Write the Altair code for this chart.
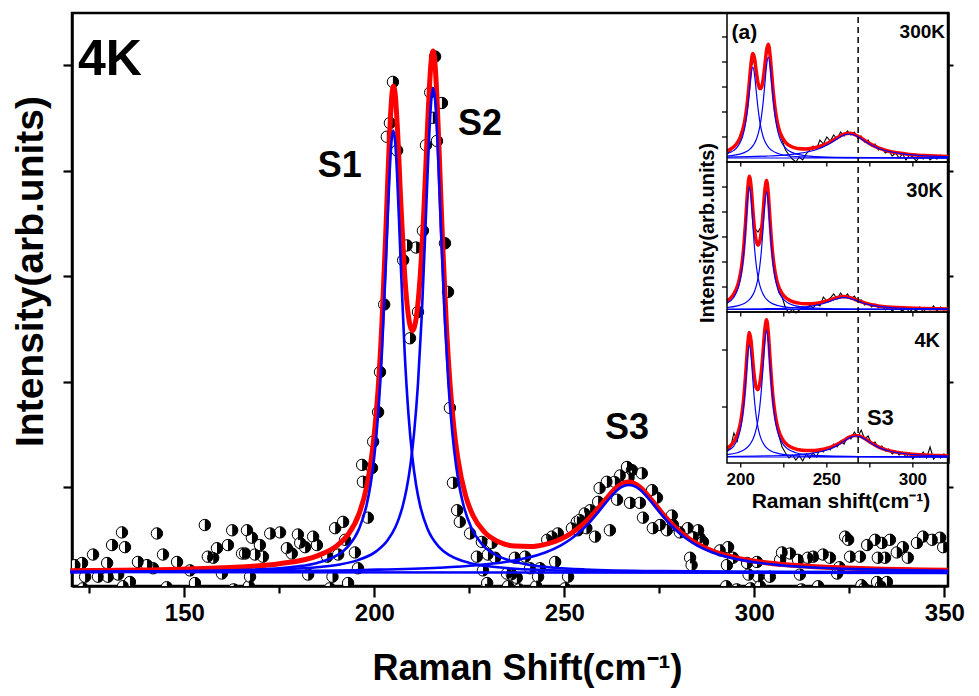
import altair as alt
import pandas as pd

FONT = "Liberation Sans"

# ---------------- main panel (4K) : measured points ----------------
PX = [121.2, 123.1, 123.3, 123.9, 126.0, 127.3, 129.7, 129.9, 131.0, 132.6,
      133.6, 133.9, 134.4, 135.7, 137.8, 140.2, 141.8, 142.8, 144.4, 145.4,
      148.1, 151.5, 152.8, 155.4, 156.2, 157.6, 158.6, 159.9, 161.5, 162.6,
      163.0, 165.2, 166.0, 166.5, 167.0, 167.3, 167.8, 168.6, 169.9, 170.7,
      172.6, 175.2, 177.0, 178.3, 179.9, 180.5, 181.8, 182.6, 183.9, 184.9,
      187.6, 188.3, 189.0, 189.7, 190.5, 191.8, 192.3, 193.1, 194.9, 195.7,
      196.8, 197.0, 198.3, 199.4, 199.7, 201.0, 201.5, 202.6, 203.3, 204.1,
      204.9, 206.0, 207.6, 208.6, 209.4, 211.0, 211.5, 212.8, 213.6, 214.7,
      215.4, 216.0, 216.5, 217.8, 218.6, 219.4, 219.9, 220.7, 221.8, 222.5,
      225.2, 227.0, 228.3, 228.6, 229.1, 229.7, 229.9, 230.9, 231.8, 234.9,
      235.2, 236.2, 237.0, 237.5, 238.1, 239.7, 241.0, 242.6, 243.1, 243.6,
      245.5, 246.8, 247.6, 248.3, 250.2, 251.0, 252.0, 253.3, 253.6, 254.1,
      255.4, 255.8, 256.8, 258.1, 258.9, 259.3, 261.2, 262.0, 263.3, 263.9,
      264.7, 266.5, 266.9, 267.3, 267.8, 269.9, 270.4, 270.7, 273.1, 273.3,
      274.4, 275.2, 277.0, 278.3, 278.6, 280.4, 282.5, 283.1, 283.5, 283.9,
      285.2, 285.6, 286.5, 291.0, 292.6, 292.8, 293.1, 294.4, 295.4, 298.1,
      298.5, 299.0, 300.7, 301.0, 301.5, 304.1, 306.8, 307.3, 309.4, 311.5,
      312.0, 312.4, 314.1, 315.5, 316.8, 318.1, 319.9, 321.8, 322.4, 323.9,
      324.7, 325.2, 327.8, 328.2, 328.9, 329.7, 331.8, 332.3, 332.5, 333.3,
      333.6, 334.4, 334.9, 335.7, 337.5, 339.1, 340.4, 342.8, 344.4, 346.8,
      348.9, 349.7]
PY = [0.26, 0.28, 0.04, 0.15, 0.36, 0.15, 0.28, 0.15, 0.45, 0.17,
      0.57, 0.06, 0.43, 0.10, 0.29, 0.26, 0.23, 0.56, 0.36, 0.05,
      0.29, 0.21, 0.09, 0.64, 0.34, 0.33, 0.42, 0.18, 0.45, 0.59,
      0.03, 0.37, 0.37, 0.59, 0.06, 0.15, 0.52, 0.36, 0.45, 0.34,
      0.56, 0.57, 0.42, 0.37, 0.55, 0.47, 0.43, 0.17, 0.53, 0.45,
      0.34, 0.04, 0.15, 0.61, 0.36, 0.67, 0.50, 0.09, 0.38, 0.23,
      1.21, 1.05, 0.71, 1.18, 1.43, 1.71, 2.09, 2.73, 4.32, 4.45,
      4.84, 4.19, 3.15, 3.29, 2.41, 3.27, 2.66, 3.43, 4.24, 4.74,
      4.50, 5.08, 4.28, 4.64, 3.31, 2.85, 1.75, 1.04, 0.78, 0.67,
      0.56, 0.34, 0.48, 0.21, 0.03, 0.09, 0.36, 0.47, 0.33, 0.18,
      0.06, 0.17, 0.33, 0.14, 0.03, 0.34, 0.23, 0.06, 0.15, 0.23,
      0.50, 0.53, 0.29, 0.56, 0.04, 0.15, 0.61, 0.67, 0.59, 0.69,
      0.75, 0.61, 0.78, 0.53, 0.86, 0.99, 1.05, 0.59, 1.05, 0.88,
      1.11, 1.19, 1.09, 0.85, 1.16, 0.85, 1.13, 0.71, 0.97, 0.61,
      0.90, 0.64, 0.59, 0.73, 0.64, 0.57, 0.61, 0.33, 0.26, 0.53,
      0.59, 0.52, 0.48, 0.40, 0.06, 0.26, 0.43, 0.33, 0.03, 0.28,
      0.17, 0.04, 0.29, 0.15, 0.06, 0.15, 0.31, 0.38, 0.37, 0.31,
      0.17, 0.03, 0.33, 0.34, 0.06, 0.36, 0.33, 0.18, 0.24, 0.53,
      0.50, 0.34, 0.34, 0.07, 0.04, 0.45, 0.50, 0.10, 0.33, 0.06,
      0.47, 0.33, 0.10, 0.50, 0.38, 0.43, 0.33, 0.47, 0.53, 0.50,
      0.52, 0.43]

# total fit (red)
FIT_X = [120, 140, 160, 175, 185, 190, 193, 196, 198, 199,
         200, 201, 202, 203, 203.5, 204, 204.5, 205, 205.5, 206,
         207, 208, 209, 209.5, 210, 210.5, 211, 212, 213, 213.5,
         214, 214.5, 215, 215.5, 216, 216.5, 217, 218, 219, 220,
         221, 222, 224, 226, 229, 233, 237, 241, 245, 249,
         252, 255, 258, 261, 264, 267, 270, 273, 276, 279,
         283, 289, 295, 303, 315, 330, 351]
FIT_Y = [0.206, 0.214, 0.234, 0.273, 0.348, 0.440, 0.545, 0.748, 1.006, 1.210,
         1.502, 1.925, 2.543, 3.389, 3.867, 4.315, 4.654, 4.800, 4.723, 4.455,
         3.681, 3.011, 2.615, 2.518, 2.484, 2.511, 2.596, 2.960, 3.589, 3.988,
         4.406, 4.786, 5.053, 5.133, 4.998, 4.676, 4.238, 3.292, 2.506, 1.941,
         1.543, 1.266, 0.920, 0.728, 0.573, 0.477, 0.440, 0.436, 0.457, 0.506,
         0.566, 0.650, 0.760, 0.888, 1.002, 1.047, 0.996, 0.876, 0.741, 0.623,
         0.505, 0.394, 0.331, 0.283, 0.247, 0.225, 0.211]
# components (blue)
S1_X = [120, 143, 165, 180, 185, 190, 193, 196, 198, 199,
        200, 201, 202, 203, 203.5, 204, 204.5, 205, 205.5, 206,
        206.5, 207, 208, 209, 210, 211, 212, 214, 217, 220,
        225, 230, 245, 255, 267, 290, 351]
S1_Y = [0.195, 0.200, 0.213, 0.249, 0.281, 0.349, 0.433, 0.604, 0.833, 1.019,
        1.288, 1.686, 2.271, 3.079, 3.533, 3.956, 4.266, 4.380, 4.266, 3.956,
        3.533, 3.079, 2.271, 1.686, 1.288, 1.019, 0.833, 0.604, 0.433, 0.349,
        0.281, 0.249, 0.213, 0.205, 0.200, 0.195, 0.192]
S2_X = [120, 155.5, 175.5, 185.5, 190.5, 195.5, 200.5, 203.5, 205.5, 206.5,
        207.5, 208.5, 209.5, 210.5, 211.5, 212.5, 213.5, 214, 214.5, 215,
        215.5, 216, 216.5, 217, 217.5, 218.5, 219.5, 220.5, 221.5, 222.5,
        223.5, 225.5, 228.5, 232.5, 235.5, 240.5, 255.5, 275.5, 310.5, 351]
S2_Y = [0.195, 0.203, 0.219, 0.242, 0.264, 0.305, 0.390, 0.495, 0.616, 0.705,
        0.823, 0.983, 1.207, 1.524, 1.981, 2.633, 3.491, 3.953, 4.371, 4.671,
        4.780, 4.671, 4.371, 3.953, 3.491, 2.633, 1.981, 1.524, 1.207, 0.983,
        0.823, 0.616, 0.452, 0.347, 0.305, 0.264, 0.219, 0.203, 0.195, 0.192]
S3_X = [120, 167, 197, 217, 227, 234, 240, 245, 249, 252,
        255, 257, 259, 261, 263, 265, 267, 269, 271, 273,
        275, 277, 279, 282, 285, 289, 294, 300, 307, 317,
        327, 337, 351]
S3_Y = [0.195, 0.202, 0.214, 0.235, 0.259, 0.287, 0.327, 0.380, 0.445, 0.514,
        0.605, 0.680, 0.765, 0.854, 0.937, 0.998, 1.020, 0.998, 0.937, 0.854,
        0.765, 0.680, 0.605, 0.514, 0.445, 0.380, 0.327, 0.287, 0.259, 0.235,
        0.222, 0.214, 0.207]
BASE_X = [120, 351]
BASE_Y = [0.194, 0.186]

X_MAJOR = [150, 200, 250, 300, 350]
X_MINOR = [125, 175, 225, 275, 325]
Y_TICKS = [1, 2, 3, 4, 5]

PEAK_NAMES = ["S1", "S2", "S3"]
PEAK_LX = [190.9, 227.8, 266.5]
PEAK_LY = [3.94, 4.34, 1.46]
TEMP_MAIN = ["4K"]
TEMP_MAIN_X = [122.0]
TEMP_MAIN_Y = [4.905]

# ---------------- inset (a) ----------------
IX_TICKS = [200, 225, 250, 275, 300]
IX_LABELS = ["200", "250", "300"]
IX_LABEL_X = [200, 250, 300]
IY_TICKS_300K = [0.25, 0.5, 0.75, 1.0, 1.25]
IY_TICKS_30K = [0.25, 0.5, 0.75, 1.0, 1.25]
IY_TICKS_4K = [0.56, 1.13]
G = [192, 194, 196, 198, 199, 200, 201, 202, 203, 204,
     205, 206, 207, 208, 209, 210, 211, 212, 213, 214,
     215, 216, 217, 218, 219, 220, 221, 222, 224, 226,
     229, 233, 238, 243, 248, 252, 256, 260, 263, 266,
     269, 272, 276, 280, 285, 291, 298, 307, 321]
FIT_300K = [0.110, 0.128, 0.153, 0.193, 0.221, 0.260, 0.312, 0.384, 0.485, 0.625,
            0.804, 0.987, 1.084, 1.036, 0.907, 0.792, 0.735, 0.745, 0.825, 0.964,
            1.117, 1.177, 1.075, 0.876, 0.680, 0.528, 0.419, 0.341, 0.249, 0.197,
            0.157, 0.135, 0.130, 0.142, 0.168, 0.202, 0.243, 0.279, 0.288, 0.277,
            0.249, 0.216, 0.174, 0.142, 0.113, 0.092, 0.076, 0.064, 0.055]
FIT_30K = [0.111, 0.138, 0.181, 0.256, 0.316, 0.401, 0.524, 0.705, 0.951, 1.219,
           1.358, 1.255, 1.028, 0.829, 0.710, 0.669, 0.702, 0.812, 1.000, 1.217,
           1.314, 1.180, 0.922, 0.685, 0.512, 0.394, 0.312, 0.255, 0.185, 0.145,
           0.111, 0.091, 0.082, 0.086, 0.101, 0.121, 0.144, 0.154, 0.146, 0.128,
           0.108, 0.091, 0.073, 0.061, 0.051, 0.044, 0.039, 0.035, 0.031]
FIT_4K = [0.146, 0.172, 0.213, 0.283, 0.339, 0.418, 0.533, 0.699, 0.927, 1.174,
          1.305, 1.218, 1.018, 0.848, 0.753, 0.734, 0.788, 0.918, 1.120, 1.338,
          1.432, 1.304, 1.049, 0.803, 0.615, 0.484, 0.391, 0.325, 0.245, 0.198,
          0.159, 0.135, 0.124, 0.125, 0.137, 0.156, 0.186, 0.227, 0.258, 0.276,
          0.271, 0.245, 0.200, 0.161, 0.129, 0.106, 0.091, 0.080, 0.072]

I_S1_X = [192, 196, 198, 199, 200, 201, 202, 203, 204, 205,
          206, 207, 208, 209, 210, 211, 212, 214, 217, 222,
          229, 240, 260, 290, 321]
I_S2_X = [192, 198, 202, 205, 207, 208, 209, 210, 211, 212,
          213, 214, 215, 216, 217, 218, 219, 220, 221, 222,
          223, 225, 228, 232, 238, 250, 270, 321]
S1_4K = [0.117, 0.172, 0.234, 0.284, 0.357, 0.463, 0.620, 0.835, 1.068, 1.180,
         1.068, 0.835, 0.620, 0.463, 0.357, 0.284, 0.234, 0.172, 0.126, 0.094,
         0.077, 0.068, 0.063, 0.061, 0.061]
S2_4K = [0.084, 0.103, 0.132, 0.178, 0.235, 0.280, 0.341, 0.429, 0.555, 0.736,
         0.973, 1.217, 1.330, 1.217, 0.973, 0.736, 0.555, 0.429, 0.341, 0.280,
         0.235, 0.178, 0.132, 0.103, 0.084, 0.071, 0.065, 0.061]
S3_4K_X = [192, 215, 230, 240, 248, 253, 257, 260, 263, 265,
           267, 269, 271, 274, 277, 281, 286, 294, 304, 321]
S3_4K = [0.065, 0.071, 0.080, 0.095, 0.120, 0.149, 0.184, 0.217, 0.249, 0.264,
         0.270, 0.264, 0.249, 0.217, 0.184, 0.149, 0.120, 0.095, 0.080, 0.070]
S1_30K = [0.087, 0.148, 0.216, 0.271, 0.351, 0.468, 0.640, 0.877, 1.132, 1.255,
          1.132, 0.877, 0.640, 0.468, 0.351, 0.271, 0.216, 0.148, 0.097, 0.062,
          0.044, 0.034, 0.029, 0.027, 0.026]
S2_30K = [0.045, 0.061, 0.085, 0.123, 0.171, 0.208, 0.261, 0.337, 0.450, 0.615,
          0.842, 1.087, 1.205, 1.087, 0.842, 0.615, 0.450, 0.337, 0.261, 0.208,
          0.171, 0.123, 0.085, 0.061, 0.045, 0.034, 0.029, 0.026]
S3_30K_X = [192, 215, 225, 233, 240, 245, 249, 252, 255, 258,
            260, 262, 265, 268, 271, 275, 280, 287, 295, 305, 321]
S3_30K = [0.029, 0.033, 0.037, 0.045, 0.057, 0.072, 0.090, 0.108, 0.127, 0.142,
          0.145, 0.142, 0.127, 0.108, 0.090, 0.072, 0.057, 0.045, 0.037, 0.033, 0.030]
S1_300K_X = [192, 196, 198, 200, 201, 202, 203, 204, 205, 206,
             207, 208, 209, 210, 211, 212, 213, 214, 216, 218,
             222, 228, 238, 260, 321]
S1_300K = [0.082, 0.116, 0.149, 0.207, 0.253, 0.318, 0.411, 0.541, 0.707, 0.874,
           0.950, 0.874, 0.707, 0.541, 0.411, 0.318, 0.253, 0.207, 0.149, 0.116,
           0.082, 0.060, 0.050, 0.044, 0.041]
S2_300K_X = [192, 198, 202, 205, 207, 208, 209, 210, 211, 212,
             213, 214, 215, 216, 217, 218, 219, 220, 221, 222,
             223, 224, 225, 227, 230, 234, 240, 255, 280, 321]
S2_300K = [0.059, 0.073, 0.094, 0.124, 0.161, 0.188, 0.225, 0.276, 0.349, 0.451,
           0.596, 0.781, 0.966, 1.050, 0.966, 0.781, 0.596, 0.451, 0.349, 0.276,
           0.225, 0.188, 0.161, 0.124, 0.094, 0.073, 0.059, 0.047, 0.043, 0.041]
S3_300K_X = [192, 215, 225, 233, 240, 245, 249, 252, 255, 258,
             261, 263, 265, 268, 271, 274, 277, 281, 286, 293,
             301, 311, 321]
S3_300K = [0.049, 0.059, 0.069, 0.083, 0.105, 0.130, 0.160, 0.188, 0.221, 0.253,
           0.275, 0.280, 0.275, 0.253, 0.221, 0.188, 0.160, 0.130, 0.105, 0.083,
           0.069, 0.059, 0.053]
BASE_300K = [0.04, 0.04]
BASE_30K = [0.025, 0.025]
BASE_4K = [0.06, 0.06]
I_BASE_X = [192, 321]

D_X = [192, 194, 196, 198, 200, 202, 204, 206, 208, 210,
       212, 214, 216, 218, 220, 222, 224, 226, 228, 230,
       232, 234, 236, 238, 240, 242, 244, 246, 248, 250,
       252, 254, 256, 258, 260, 262, 264, 266, 268, 270,
       272, 274, 276, 278, 280, 282, 284, 286, 288, 290,
       292, 294, 296, 298, 300, 302, 304, 306, 308, 310,
       312, 314, 316, 318, 320]
D_300K = [0.08, 0.11, 0.16, 0.19, 0.29, 0.38, 0.60, 0.96, 1.02, 0.80,
          0.73, 0.99, 1.16, 0.90, 0.52, 0.32, 0.22, 0.12, 0.07, 0.03,
          0.00, 0.05, 0.02, 0.08, 0.12, 0.16, 0.13, 0.22, 0.18, 0.25,
          0.21, 0.27, 0.23, 0.30, 0.26, 0.31, 0.27, 0.30, 0.24, 0.26,
          0.20, 0.22, 0.16, 0.18, 0.12, 0.14, 0.09, 0.11, 0.06, 0.09,
          0.04, 0.08, 0.02, 0.07, 0.05, 0.01, 0.06, 0.03, 0.07, 0.02,
          0.05, 0.03, 0.07, 0.04, 0.06]
D_30K = [0.09, 0.13, 0.16, 0.27, 0.43, 0.68, 1.20, 1.24, 0.84, 0.80,
         0.86, 1.25, 1.22, 0.66, 0.42, 0.20, 0.15, 0.04, -0.01, 0.03,
         -0.01, 0.02, 0.05, 0.03, 0.07, 0.04, 0.08, 0.06, 0.15, 0.11,
         0.14, 0.18, 0.13, 0.19, 0.14, 0.18, 0.13, 0.16, 0.11, 0.12,
         0.07, 0.09, 0.05, 0.08, 0.04, 0.06, 0.02, 0.05, 0.01, 0.04,
         0.03, 0.01, 0.04, 0.00, 0.03, 0.01, 0.05, 0.00, 0.04, 0.02,
         0.06, 0.01, 0.05, 0.02, 0.04]
D_4K = [0.12, 0.15, 0.30, 0.22, 0.45, 0.72, 1.17, 1.20, 0.86, 0.72,
        0.95, 1.36, 1.28, 0.82, 0.50, 0.28, 0.16, 0.10, 0.05, 0.08,
        0.03, 0.07, 0.02, 0.09, 0.05, 0.10, 0.06, 0.14, 0.11, 0.16,
        0.13, 0.19, 0.16, 0.22, 0.19, 0.26, 0.24, 0.31, 0.26, 0.33,
        0.24, 0.27, 0.19, 0.21, 0.15, 0.17, 0.12, 0.14, 0.09, 0.12,
        0.08, 0.11, 0.06, 0.10, 0.04, 0.09, 0.06, 0.11, 0.05, 0.16,
        0.04, 0.08, 0.05, 0.09, 0.07]
S3_MARK_X = [268.2]

# ---------------- layout ----------------
W, H = 876, 573
XS = alt.Scale(domain=[120.45, 350.97], nice=False, zero=False)
YS = alt.Scale(domain=[0.062, 5.493], nice=False, zero=False)
IXS = alt.Scale(domain=[192, 321], range=[655, 877], nice=False, zero=False)
P1S = alt.Scale(domain=[0, 1.49], range=[149, 0], nice=False, zero=False)
P2S = alt.Scale(domain=[0, 1.50], range=[299, 149], nice=False, zero=False)
P3S = alt.Scale(domain=[0, 1.51], range=[450, 299], nice=False, zero=False)
RED = "#ff0000"
BLUE = "#0000ff"
IX_TICK_LEN = 0.045      # inset tick length in panel units (100 px per unit)
IY_TICK_LEN = 2.9        # inset tick length in cm-1 (1.72 px per unit)


def df(x, y):
    return pd.DataFrame({"x": x, "y": y})


def line(x, y, color, w, xs, ys, interp="monotone"):
    return alt.Chart(df(x, y)).mark_line(color=color, strokeWidth=w, interpolate=interp).encode(
        x=alt.X("x:Q", scale=xs, axis=None), y=alt.Y("y:Q", scale=ys, axis=None))


def texts(t, x, y, size, align, xs, ys, angle=0, baseline="alphabetic"):
    d = pd.DataFrame({"x": x, "y": y, "t": t})
    return alt.Chart(d).mark_text(font=FONT, fontWeight="bold", fontSize=size, align=align,
                                  baseline=baseline, angle=angle, color="black").encode(
        x=alt.X("x:Q", scale=xs, axis=None), y=alt.Y("y:Q", scale=ys, axis=None), text="t:N")


x_major = alt.Axis(orient="bottom", values=X_MAJOR, tickSize=11, tickWidth=2.2, domainWidth=2.5,
                   labelFontSize=24, labelPadding=4, labelFlush=False, labelOverlap=False,
                   title="Raman Shift(cm⁻¹)", titleFontSize=36, titleX=455, titleY=93,
                   titleBaseline="alphabetic", titleAlign="center")
x_minor = alt.Axis(orient="bottom", values=X_MINOR, tickSize=7, tickWidth=2.2, domain=False,
                   labels=False, title=None)
y_axis_left = alt.Axis(orient="left", values=Y_TICKS, labels=False, tickSize=9, tickWidth=2.2,
                       domainWidth=2.5, title="Intensity(arb.units)", titleFontSize=39,
                       titleAngle=270, titleX=-42, titleY=258, titleAlign="center",
                       titleBaseline="middle")
y_axis_right = alt.Axis(orient="right", values=Y_TICKS, labels=False, domain=False, tickSize=5,
                        tickWidth=2, zindex=1, title=None)

pts = df(PX, PY)
circ = alt.Chart(pts).mark_point(shape="circle", filled=True, fill="white", stroke="black",
                                 strokeWidth=1, size=130, opacity=1, clip=True).encode(
    x=alt.X("x:Q", scale=XS, axis=x_major), y=alt.Y("y:Q", scale=YS, axis=y_axis_left))
half = alt.Chart(pts).mark_point(shape="M0,-1A1,1,0,0,1,0,1Z", filled=True, fill="black",
                                 strokeWidth=0, size=130, opacity=1, clip=True).encode(
    x=alt.X("x:Q", scale=XS, axis=x_minor), y=alt.Y("y:Q", scale=YS, axis=y_axis_right))

main = alt.layer(
    circ, half,
    line(FIT_X, FIT_Y, RED, 5, XS, YS),
    line(S1_X, S1_Y, BLUE, 2.6, XS, YS),
    line(S2_X, S2_Y, BLUE, 2.6, XS, YS),
    line(S3_X, S3_Y, BLUE, 2.6, XS, YS),
    line(BASE_X, BASE_Y, BLUE, 2.6, XS, YS, "linear"),
    texts(TEMP_MAIN, TEMP_MAIN_X, TEMP_MAIN_Y, 50, "left", XS, YS),
    texts(PEAK_NAMES, PEAK_LX, PEAK_LY, 36, "center", XS, YS),
).resolve_axis(x="independent", y="independent")


def frame(ys, top):
    d = pd.DataFrame({"x": [192], "x2": [321], "y": [0], "y2": [top]})
    return alt.Chart(d).mark_rect(fillOpacity=0, stroke="black", strokeWidth=1.5).encode(
        x=alt.X("x:Q", scale=IXS, axis=None), x2="x2:Q",
        y=alt.Y("y:Q", scale=ys, axis=None), y2="y2:Q")


def xticks(ys):
    d = pd.DataFrame({"x": IX_TICKS, "y": [0] * len(IX_TICKS), "y2": [-IX_TICK_LEN] * len(IX_TICKS)})
    return alt.Chart(d).mark_rule(color="black", strokeWidth=1.3).encode(
        x=alt.X("x:Q", scale=IXS, axis=None), y=alt.Y("y:Q", scale=ys, axis=None), y2="y2:Q")


def yticks(ys, values):
    d = pd.DataFrame({"x": [192] * len(values), "x2": [192 - IY_TICK_LEN] * len(values), "y": values})
    return alt.Chart(d).mark_rule(color="black", strokeWidth=1.3).encode(
        x=alt.X("x:Q", scale=IXS, axis=None), x2="x2:Q", y=alt.Y("y:Q", scale=ys, axis=None))


def panel(ys, top, ytv, fit, s1x, s1, s2x, s2, s3x, s3, base, data):
    return alt.layer(
        line(D_X, data, "black", 1.1, IXS, ys, "linear"),
        line(G, fit, RED, 3.5, IXS, ys),
        line(s1x, s1, BLUE, 1.2, IXS, ys),
        line(s2x, s2, BLUE, 1.2, IXS, ys),
        line(s3x, s3, BLUE, 1.2, IXS, ys),
        line(I_BASE_X, base, BLUE, 1.2, IXS, ys, "linear"),
        frame(ys, top), xticks(ys), yticks(ys, ytv),
    )


bg = alt.Chart(pd.DataFrame({"x": [174.6], "x2": [319.3], "y": [-0.54], "y2": [4.47]})).mark_rect(
    color="white").encode(x=alt.X("x:Q", scale=IXS, axis=None), x2="x2:Q",
                          y=alt.Y("y:Q", scale=P3S, axis=None), y2="y2:Q")

p1 = alt.layer(
    panel(P1S, 1.49, IY_TICKS_300K, FIT_300K,
          S1_300K_X, S1_300K, S2_300K_X, S2_300K, S3_300K_X, S3_300K, BASE_300K, D_300K),
    texts(["(a)"], [194.6], [1.23], 21, "left", IXS, P1S),
    texts(["300K"], [318.7], [1.24], 19, "right", IXS, P1S),
)
p2 = alt.layer(
    panel(P2S, 1.50, IY_TICKS_30K, FIT_30K,
          I_S1_X, S1_30K, I_S2_X, S2_30K, S3_30K_X, S3_30K, BASE_30K, D_30K),
    texts(["30K"], [317.5], [1.15], 20, "right", IXS, P2S),
    texts(["Intensity(arb.units)"], [181.0], [0.79], 20, "center", IXS, P2S, angle=270,
          baseline="middle"),
)
dash = alt.Chart(pd.DataFrame({"x": S3_MARK_X, "y": [0], "y2": [4.5]})).mark_rule(
    color="black", strokeWidth=1.5, strokeDash=[6, 4]).encode(
    x=alt.X("x:Q", scale=IXS, axis=None), y=alt.Y("y:Q", scale=P3S, axis=None), y2="y2:Q")
p3 = alt.layer(
    panel(P3S, 1.51, IY_TICKS_4K, FIT_4K,
          I_S1_X, S1_4K, I_S2_X, S2_4K, S3_4K_X, S3_4K, BASE_4K, D_4K),
    texts(["4K"], [315.8], [1.16], 20, "right", IXS, P3S),
    texts(["S3"], [273.3], [0.38], 22, "left", IXS, P3S),
    texts(IX_LABELS, IX_LABEL_X, [-0.22] * 3, 17, "center", IXS, P3S),
    texts(["Raman shift(cm⁻¹)"], [258.2], [-0.445], 21, "center", IXS, P3S),
    dash,
)

inset = alt.layer(bg, p1, p2, p3).resolve_scale(y="independent")

chart = alt.layer(main, inset).resolve_scale(x="independent", y="independent").properties(
    width=W, height=H,
    autosize=alt.AutoSizeParams(type="none"),
    padding={"left": 64, "top": 5, "right": 22, "bottom": 102},
).configure_view(stroke="black", strokeWidth=2.5).configure_axis(
    labelFont=FONT, titleFont=FONT, labelFontWeight="bold", titleFontWeight="bold",
    labelColor="black", titleColor="black", domainColor="black", tickColor="black", grid=False)

chart.save("out.html", embed_options={"renderer": "svg", "actions": False})
